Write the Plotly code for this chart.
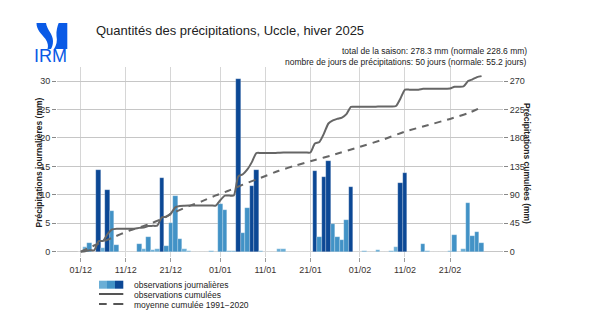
import plotly.graph_objects as go
import pandas as pd
import numpy as np

# ---------------- data ----------------
DEC_RAIN = [0, 0.8, 1.5, 0, 14.4, 0.6, 10.8, 7.1, 1.2, 0, 0, 0, 0, 1.3, 0.4, 2.5,
            0.3, 0.4, 13.0, 1.0, 5.0, 9.8, 2.2, 0.4, 0.2, 0, 0, 0, 0, 0.1, 0]
JAN_RAIN = [8.4, 7.3, 0.1, 0.1, 30.4, 3.3, 7.6, 11.5, 14.3, 0.1, 0, 0, 0, 0.4, 0.4, 0,
            0, 0, 0, 0, 0, 14.1, 2.6, 13.2, 16.0, 4.9, 2.5, 2.0, 5.5, 11.4, 0]
FEB_RAIN = [0, 0.1, 0, 0, 0.3, 0, 0, 0.2, 0.8, 12.0, 13.8, 0, 0, 0, 1.3, 0.2,
            0, 0, 0, 0, 0.2, 2.9, 0, 0.5, 8.5, 2.75, 3.45, 1.6]

NORMAL_DATES = ["2024-12-01", "2024-12-05", "2024-12-08", "2024-12-12", "2024-12-16",
                "2024-12-19", "2024-12-22", "2024-12-25", "2024-12-28", "2024-12-31",
                "2025-01-03", "2025-01-06", "2025-01-10", "2025-01-14", "2025-01-18",
                "2025-01-22", "2025-01-26", "2025-02-01", "2025-02-06", "2025-02-11",
                "2025-02-16", "2025-02-21", "2025-02-25", "2025-02-28"]
NORMAL_CUM = [0, 13, 22, 34, 43, 52, 63, 72, 80, 89, 97, 106, 117, 128, 137, 145,
              153, 166, 177, 190, 200, 210, 219, 228.6]

TICK_DATES = ["2024-12-01", "2024-12-11", "2024-12-21", "2025-01-01", "2025-01-11",
              "2025-01-21", "2025-02-01", "2025-02-11", "2025-02-21"]
TICK_LABELS = ["01/12", "11/12", "21/12", "01/01", "11/01", "21/01", "01/02", "11/02", "21/02"]

TITLE = "Quantités des précipitations, Uccle, hiver 2025"
SUB1 = "total de la saison: 278.3 mm (normale 228.6 mm)"
SUB2 = "nombre de jours de précipitations: 50 jours (normale: 55.2 jours)"
LEG = ["observations journalières", "observations cumulées", "moyenne cumulée 1991\u22122020"]

# ---------------- derived ----------------
dates = pd.date_range("2024-12-01", "2025-02-28", freq="D")
daily = np.array(DEC_RAIN + JAN_RAIN + FEB_RAIN, dtype=float)
cum = np.cumsum(daily)

C_LIGHT, C_MED, C_DARK = "#6aaed6", "#4292c6", "#0c4895"
colors = [C_DARK if v >= 10 else (C_MED if v >= 1 else C_LIGHT) for v in daily]

FONT = "Liberation Sans, Arial, sans-serif"
W, H = 610, 331
L, R, T, B = 57, 503, 67, 257


def px(x):
    return (x - L) / (R - L)


def py(y):
    return (B - y) / (B - T)


def path(pts):
    s = ""
    for p in pts:
        if isinstance(p, str):
            s += p + " "
        else:
            s += "%.5f,%.5f " % (px(p[0]), py(p[1]))
    return s.strip()


fig = go.Figure()
fig.add_trace(go.Bar(
    x=dates, y=daily, width=86400000,
    marker=dict(color=colors, line=dict(color="rgba(255,255,255,0.45)", width=0.5)),
    showlegend=False, hoverinfo="skip"))
fig.add_trace(go.Scatter(
    x=dates, y=cum, yaxis="y2", mode="lines",
    line=dict(color="#666666", width=2, shape="spline", smoothing=0.6),
    showlegend=False, hoverinfo="skip"))
fig.add_trace(go.Scatter(
    x=pd.to_datetime(NORMAL_DATES), y=NORMAL_CUM, yaxis="y2", mode="lines",
    line=dict(color="#666666", width=2, dash="7px,6px", shape="spline", smoothing=0.5),
    showlegend=False, hoverinfo="skip"))

ymin, ymax = -0.93, 32.46
fig.update_layout(
    width=W, height=H, margin=dict(l=L, r=W - R, t=T, b=H - B),
    paper_bgcolor="white", plot_bgcolor="white",
    font=dict(family=FONT, size=9, color="#333333"),
    bargap=0,
    xaxis=dict(type="date", range=["2024-11-25 17:45", "2025-03-04 18:15"],
               tickvals=pd.to_datetime(TICK_DATES), ticktext=TICK_LABELS,
               showgrid=True, gridcolor="#d6d6d6", gridwidth=1,
               ticks="outside", ticklen=4, tickcolor="#999999",
               tickfont=dict(size=9, color="#3a3330"), showline=False, zeroline=False),
    yaxis=dict(range=[ymin, ymax], tickvals=[0, 5, 10, 15, 20, 25, 30],
               showgrid=True, gridcolor="#c6c6c6", gridwidth=1,
               zeroline=True, zerolinecolor="#c6c6c6", zerolinewidth=1,
               ticks="outside", ticklen=4, tickcolor="#888888",
               tickfont=dict(size=9, color="#333333"), showline=False),
    yaxis2=dict(range=[ymin * 9, ymax * 9], overlaying="y", side="right",
                tickvals=[0, 45, 90, 135, 180, 225, 270],
                showgrid=False, zeroline=False,
                ticks="outside", ticklen=4, tickcolor="#888888",
                tickfont=dict(size=9, color="#333333"), showline=False),
)

ann = []
ann.append(dict(text=TITLE, x=px(94), y=py(30), xref="paper", yref="paper",
                xanchor="left", yanchor="middle", showarrow=False,
                font=dict(size=13, color="#222222")))
ann.append(dict(text=SUB1, x=px(528.5), y=py(50.7), xref="paper", yref="paper",
                xanchor="right", yanchor="middle", showarrow=False,
                font=dict(size=8.5, color="#222222")))
ann.append(dict(text=SUB2, x=px(528.5), y=py(62), xref="paper", yref="paper",
                xanchor="right", yanchor="middle", showarrow=False,
                font=dict(size=8.5, color="#222222")))
ann.append(dict(text="<b>Précipitations journalières (mm)</b>", x=px(38), y=py(162.5),
                xref="paper", yref="paper", xanchor="center", yanchor="middle",
                textangle=-90, showarrow=False, font=dict(size=8.5, color="#222222")))
ann.append(dict(text="<b>Précipitations cumulées (mm)</b>", x=px(527), y=py(163),
                xref="paper", yref="paper", xanchor="center", yanchor="middle",
                textangle=90, showarrow=False, font=dict(size=8.5, color="#222222")))
ann.append(dict(text="IRM", x=px(50.3), y=py(56.5), xref="paper", yref="paper",
                xanchor="center", yanchor="middle", showarrow=False,
                font=dict(size=18, color="#0a5ae6")))
for t, yy in zip(LEG, [284.5, 294.5, 304.5]):
    ann.append(dict(text=t, x=px(132), y=py(yy), xref="paper", yref="paper",
                    xanchor="left", yanchor="middle", showarrow=False,
                    font=dict(size=8.5, color="#222222")))

shapes = []
for c, (x0, x1) in zip([C_LIGHT, C_MED, C_DARK], [(99, 107), (107, 115), (115, 123.3)]):
    shapes.append(dict(type="rect", xref="paper", yref="paper", x0=px(x0), x1=px(x1),
                       y0=py(288.7), y1=py(280.7), fillcolor=c, line=dict(width=0)))
shapes.append(dict(type="line", xref="paper", yref="paper", x0=px(99), x1=px(123.3),
                   y0=py(294), y1=py(294), line=dict(color="#555555", width=2)))
for x0, x1 in [(99, 106.7), (113.3, 123.3)]:
    shapes.append(dict(type="line", xref="paper", yref="paper", x0=px(x0), x1=px(x1),
                       y0=py(304), y1=py(304), line=dict(color="#555555", width=2)))
# IRM logo shapes
shapes.append(dict(type="path", xref="paper", yref="paper", fillcolor="#0a5ae6", line=dict(width=0),
                   path=path(["M", (36.5, 23), "L", (46, 23), "C", (47, 30), (53, 34), (53, 41),
                              "C", (53, 45), (52, 47), (51, 49), "L", (47.5, 49), "C", (48.5, 46),
                              (48, 43), (45.5, 39), "C", (41, 33), (36.5, 30), (36.5, 23), "Z"])))
shapes.append(dict(type="path", xref="paper", yref="paper", fillcolor="#0a5ae6", line=dict(width=0),
                   path=path(["M", (58.7, 23), "L", (67.3, 23), "L", (67.3, 49), "L", (54, 49),
                              "C", (56.5, 45), (57.5, 41), (56.5, 36), "C", (56, 31), (57.5, 26),
                              (58.7, 23), "Z"])))

fig.update_layout(annotations=ann, shapes=shapes)
fig.write_html("out.html")
